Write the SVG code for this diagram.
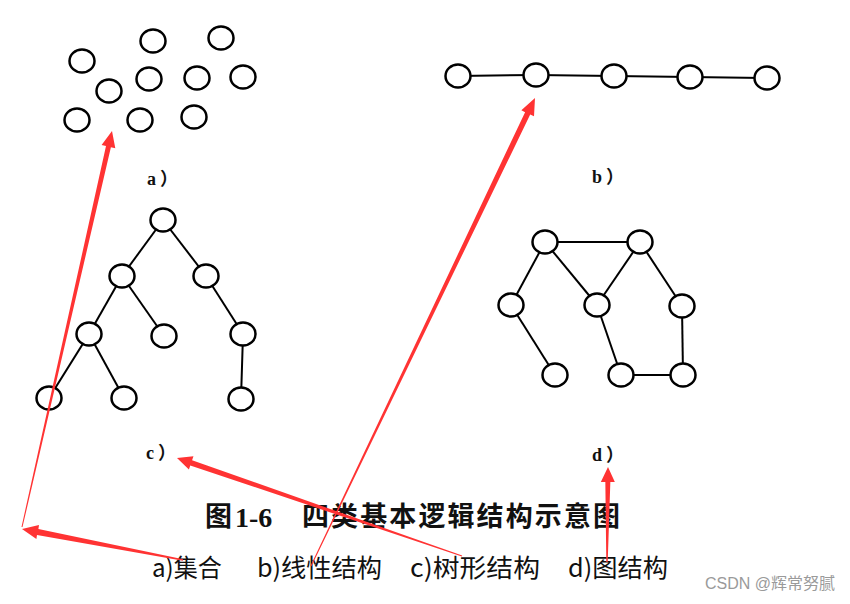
<svg xmlns="http://www.w3.org/2000/svg" width="850" height="604" viewBox="0 0 850 604">
<style>
.n{fill:#fff;stroke:#000;stroke-width:2.5}
.e{stroke:#000;stroke-width:2;fill:none}
.lab{font-family:"Liberation Serif","Noto Sans CJK SC",serif;font-size:18px;font-weight:bold;fill:#111;letter-spacing:4px}
.ttl{font-family:"Noto Sans CJK SC",sans-serif;font-size:27px;font-weight:bold;fill:#111}
.ttln{font-family:"Liberation Serif",serif;font-size:28px;font-weight:bold;fill:#111}
.sub{font-family:"Noto Sans CJK SC",sans-serif;font-size:25px;fill:#111}
.wm{font-family:"Liberation Sans","Noto Sans CJK SC",sans-serif;font-size:16px;fill:#9a9a9a}
.ar{fill:#ff3333;stroke:none}
</style>
<rect width="850" height="604" fill="#fff"/>

<g id="set-a">
<ellipse class="n" cx="82" cy="61" rx="12.5" ry="11.5"/>
<ellipse class="n" cx="153" cy="41" rx="12.5" ry="11.5"/>
<ellipse class="n" cx="221" cy="38" rx="12.5" ry="11.5"/>
<ellipse class="n" cx="109" cy="91" rx="12.5" ry="11.5"/>
<ellipse class="n" cx="149" cy="79" rx="12.5" ry="11.5"/>
<ellipse class="n" cx="197" cy="78" rx="12.5" ry="11.5"/>
<ellipse class="n" cx="243" cy="77" rx="12.5" ry="11.5"/>
<ellipse class="n" cx="77" cy="120" rx="12.5" ry="11.5"/>
<ellipse class="n" cx="140" cy="120" rx="12.5" ry="11.5"/>
<ellipse class="n" cx="194" cy="117" rx="12.5" ry="11.5"/>
<text class="lab" x="147" y="185">a）</text>
</g>

<g id="connectors">
<line class="e" x1="458" y1="76" x2="536" y2="75"/>
<line class="e" x1="536" y1="75" x2="614" y2="76"/>
<line class="e" x1="614" y1="76" x2="690" y2="77"/>
<line class="e" x1="690" y1="77" x2="767" y2="78"/>

<line class="e" x1="163" y1="220" x2="122" y2="276"/>
<line class="e" x1="163" y1="220" x2="206" y2="276"/>
<line class="e" x1="122" y1="276" x2="89" y2="334"/>
<line class="e" x1="122" y1="276" x2="164" y2="336"/>
<line class="e" x1="206" y1="276" x2="243" y2="334"/>
<line class="e" x1="89" y1="334" x2="49" y2="398"/>
<line class="e" x1="89" y1="334" x2="124" y2="398"/>
<line class="e" x1="243" y1="334" x2="241" y2="399"/>

<line class="e" x1="545" y1="242" x2="640" y2="242"/>
<line class="e" x1="545" y1="242" x2="511" y2="305"/>
<line class="e" x1="545" y1="242" x2="597" y2="305"/>
<line class="e" x1="640" y1="242" x2="597" y2="305"/>
<line class="e" x1="640" y1="242" x2="682" y2="306"/>
<line class="e" x1="511" y1="305" x2="555" y2="375"/>
<line class="e" x1="597" y1="305" x2="621" y2="375"/>
<line class="e" x1="621" y1="375" x2="683" y2="375"/>
<line class="e" x1="682" y1="306" x2="683" y2="375"/>
</g>

<g id="linear-b">
<ellipse class="n" cx="458" cy="76" rx="12.5" ry="11.5"/>
<ellipse class="n" cx="536" cy="75" rx="12.5" ry="11.5"/>
<ellipse class="n" cx="614" cy="76" rx="12.5" ry="11.5"/>
<ellipse class="n" cx="690" cy="77" rx="12.5" ry="11.5"/>
<ellipse class="n" cx="767" cy="78" rx="12.5" ry="11.5"/>
<text class="lab" x="592" y="183">b）</text>
</g>

<g id="tree-c">
<ellipse class="n" cx="163" cy="220" rx="12.5" ry="11.5"/>
<ellipse class="n" cx="122" cy="276" rx="12.5" ry="11.5"/>
<ellipse class="n" cx="206" cy="276" rx="12.5" ry="11.5"/>
<ellipse class="n" cx="89" cy="334" rx="12.5" ry="11.5"/>
<ellipse class="n" cx="164" cy="336" rx="12.5" ry="11.5"/>
<ellipse class="n" cx="243" cy="334" rx="12.5" ry="11.5"/>
<ellipse class="n" cx="49" cy="398" rx="12.5" ry="11.5"/>
<ellipse class="n" cx="124" cy="398" rx="12.5" ry="11.5"/>
<ellipse class="n" cx="241" cy="399" rx="12.5" ry="11.5"/>
<text class="lab" x="146" y="459">c）</text>
</g>

<g id="graph-d">
<ellipse class="n" cx="545" cy="242" rx="12.5" ry="11.5"/>
<ellipse class="n" cx="640" cy="242" rx="12.5" ry="11.5"/>
<ellipse class="n" cx="511" cy="305" rx="12.5" ry="11.5"/>
<ellipse class="n" cx="597" cy="305" rx="12.5" ry="11.5"/>
<ellipse class="n" cx="682" cy="306" rx="12.5" ry="11.5"/>
<ellipse class="n" cx="555" cy="375" rx="12.5" ry="11.5"/>
<ellipse class="n" cx="621" cy="375" rx="12.5" ry="11.5"/>
<ellipse class="n" cx="683" cy="375" rx="12.5" ry="11.5"/>
<text class="lab" x="592" y="461">d）</text>
</g>

<g id="caption">
<text class="ttl" x="205" y="526">图</text>
<text class="ttln" x="235" y="527">1-6</text>
<text class="ttl" x="302" y="526" textLength="318" lengthAdjust="spacing">四类基本逻辑结构示意图</text>
<text class="sub" x="152" y="577" textLength="70" lengthAdjust="spacingAndGlyphs">a)集合</text>
<text class="sub" x="257" y="577" textLength="125" lengthAdjust="spacingAndGlyphs">b)线性结构</text>
<text class="sub" x="410" y="577" textLength="130" lengthAdjust="spacingAndGlyphs">c)树形结构</text>
<text class="sub" x="568" y="577" textLength="100" lengthAdjust="spacingAndGlyphs">d)图结构</text>
<text class="wm" x="705" y="589">CSDN @辉常努腻</text>
</g>

<g id="red-arrows">
<polygon class="ar" points="183.1,559.3 38.4,528.9 39,525.1 22,529 36.4,538.9 37,535.1 182.9,560.7"/>
<polygon class="ar" points="22.5,527.1 110.9,147.2 115.3,148.2 112,131 101.6,145 106,146.1 21.5,526.9"/>
<polygon class="ar" points="311.45,566.2 530.2,114.55 534,116.36 535,98 521.35,110.32 525.1,112.13 310.55,565.8"/>
<polygon class="ar" points="462.16,555.53 192.09,460.23 193.46,456.26 177,458 188.9,469.5 190.27,465.53 461.84,556.47"/>
<polygon class="ar" points="607.7,562 610.34,482 614.84,482 608,467 600.84,482 605.34,482 606.3,562"/>
</g>
</svg>
